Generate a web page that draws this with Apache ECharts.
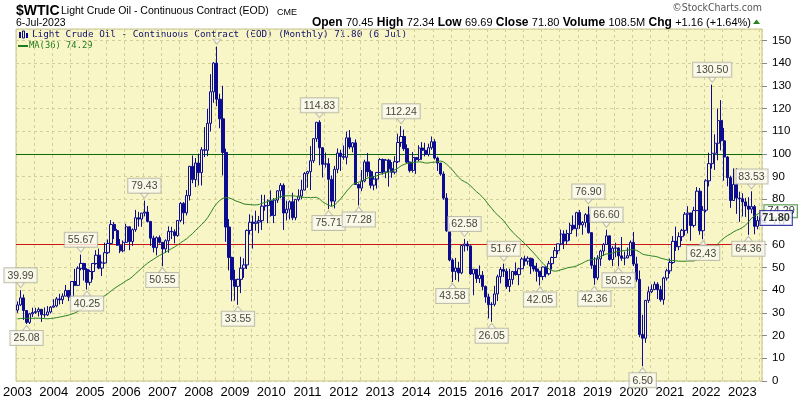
<!DOCTYPE html>
<html><head><meta charset="utf-8">
<script src="https://cdn.jsdelivr.net/npm/echarts@6/dist/echarts.min.js"></script>
<style>html,body{margin:0;padding:0;background:#fff}#c{width:800px;height:400px}</style>
</head><body><div id="c"></div>
<script>
// Monthly candles: [open, close, low, high]
const wti2003 = [[31.20,33.51,30.00,35.00],[33.51,36.60,33.00,39.99],[36.60,31.04,26.90,38.10],[31.04,25.80,25.08,31.20],[25.80,29.56,25.10,30.00],[29.56,30.19,28.20,32.30],[30.19,30.54,29.60,32.20],[30.54,31.57,28.40,32.40],[31.57,29.20,26.00,31.60],[29.20,29.11,27.90,32.40],[29.11,30.41,28.60,33.00],[30.41,32.52,29.70,33.00]];
const wti2004 = [[32.52,33.05,32.20,36.00],[33.05,36.16,32.50,37.00],[36.16,35.76,33.70,38.40],[35.76,37.38,33.90,38.60],[37.38,39.88,37.30,42.30],[39.88,37.05,35.20,40.00],[37.05,43.80,36.90,44.00],[43.80,42.12,42.00,49.40],[42.12,49.64,41.80,50.50],[49.64,51.76,48.70,55.67],[51.76,49.13,44.20,52.00],[49.13,43.45,40.25,49.70]];
const wti2005 = [[43.45,48.20,42.10,49.00],[48.20,51.75,44.70,52.00],[51.75,55.40,51.20,57.60],[55.40,49.72,49.20,58.30],[49.72,51.97,46.20,52.60],[51.97,56.50,51.60,60.90],[56.50,60.57,56.00,62.30],[60.57,68.94,60.30,70.85],[68.94,66.24,62.50,70.00],[66.24,59.76,59.50,67.00],[59.76,57.32,56.30,62.50],[57.32,61.04,56.70,61.90]];
const wti2006 = [[61.04,67.92,60.80,69.20],[67.92,61.41,57.60,68.00],[61.41,66.63,59.50,67.20],[66.63,71.88,65.70,75.35],[71.88,71.29,68.00,74.50],[71.29,73.93,67.90,74.00],[73.93,74.40,72.50,79.43],[74.40,70.26,69.80,77.10],[70.26,62.91,59.50,70.30],[62.91,58.73,56.60,64.00],[58.73,63.13,55.30,63.70],[63.13,61.05,60.50,64.10]];
const wti2007 = [[61.05,58.14,50.55,61.10],[58.14,61.79,56.40,62.40],[61.79,65.87,56.50,68.10],[65.87,65.71,62.50,67.90],[65.71,64.01,60.60,66.80],[64.01,70.68,63.50,70.70],[70.68,78.21,70.00,78.80],[78.21,74.04,69.00,78.80],[74.04,81.66,72.90,84.10],[81.66,94.53,79.50,94.70],[94.53,88.71,87.10,99.30],[88.71,95.98,85.40,98.20]];
const wti2008 = [[95.98,91.75,86.10,100.10],[91.75,101.84,86.10,103.00],[101.84,101.58,98.60,111.80],[101.58,113.46,99.00,119.90],[113.46,127.35,109.90,135.10],[127.35,140.00,122.50,140.40],[140.00,124.08,121.00,147.27],[124.08,115.46,111.30,126.50],[115.46,100.64,90.50,130.00],[100.64,67.81,61.30,102.30],[67.81,54.43,48.70,71.30],[54.43,44.60,35.10,54.70]];
const wti2009 = [[44.60,41.68,35.40,49.00],[41.68,44.76,33.55,45.00],[44.76,49.66,38.70,54.70],[49.66,51.12,45.40,54.00],[51.12,66.31,49.30,66.70],[66.31,69.89,64.50,73.40],[69.89,69.45,58.30,72.80],[69.45,69.96,66.20,75.00],[69.96,70.61,65.10,72.70],[70.61,77.00,66.50,82.00],[77.00,77.28,75.00,82.00],[77.28,79.36,69.50,80.00]];
const wti2010 = [[79.36,72.89,72.40,83.95],[72.89,79.66,69.50,80.50],[79.66,83.76,78.40,83.90],[83.76,86.15,80.50,87.15],[86.15,73.97,66.50,87.00],[73.97,75.63,70.70,79.40],[75.63,78.95,71.10,79.50],[78.95,71.92,70.80,82.90],[71.92,79.97,70.80,80.00],[79.97,81.43,79.10,84.40],[81.43,84.11,80.00,88.60],[84.11,91.38,84.00,92.00]];
const wti2011 = [[91.38,92.19,85.10,92.60],[92.19,96.97,84.10,103.40],[96.97,106.72,96.00,106.90],[106.72,113.93,105.30,113.95],[113.93,102.70,95.00,114.83],[102.70,95.42,89.60,103.00],[95.42,95.70,94.00,100.60],[95.70,88.81,75.71,98.10],[88.81,79.20,77.10,90.50],[79.20,93.19,76.00,94.70],[93.19,100.36,91.50,102.40],[100.36,98.83,92.50,101.80]];
const wti2012 = [[98.83,98.48,97.40,103.70],[98.48,107.07,95.40,109.80],[107.07,103.02,102.10,110.50],[103.02,104.87,100.70,105.20],[104.87,86.53,86.30,106.40],[86.53,84.96,77.28,87.00],[84.96,88.06,83.60,92.90],[88.06,96.47,87.50,97.40],[96.47,92.19,90.00,100.40],[92.19,86.24,84.80,93.00],[86.24,88.91,84.00,90.30],[88.91,91.82,84.70,91.90]];
const wti2013 = [[91.82,97.49,91.60,98.20],[97.49,92.05,90.80,98.00],[92.05,97.23,89.30,97.80],[97.23,93.46,85.60,97.80],[93.46,91.97,89.50,96.40],[91.97,96.56,91.00,99.00],[96.56,105.03,96.00,108.90],[105.03,107.65,103.10,112.24],[107.65,102.33,101.30,110.70],[102.33,96.38,95.90,104.20],[96.38,92.72,91.80,96.60],[92.72,98.42,91.80,100.80]];
const wti2014 = [[98.42,97.49,91.20,98.50],[97.49,102.59,96.80,103.80],[102.59,101.58,97.40,105.20],[101.58,99.74,98.90,104.90],[99.74,102.71,98.90,104.50],[102.71,105.37,101.80,107.68],[105.37,98.17,97.50,106.50],[98.17,95.96,92.50,98.80],[95.96,91.16,90.40,96.00],[91.16,80.54,79.80,92.30],[80.54,66.15,65.70,82.70],[66.15,53.27,52.70,69.40]];
const wti2015 = [[53.27,48.24,43.58,54.00],[48.24,49.76,44.50,54.20],[49.76,47.60,43.70,52.50],[47.60,59.63,47.00,59.90],[59.63,60.30,57.00,62.58],[60.30,59.47,57.40,61.60],[59.47,47.12,46.70,59.70],[47.12,49.20,37.75,49.30],[49.20,45.09,43.20,49.30],[45.09,46.59,43.10,50.90],[46.59,41.65,39.90,48.40],[41.65,37.04,34.50,42.00]];
const wti2016 = [[37.04,33.62,27.56,38.40],[33.62,33.75,26.05,34.70],[33.75,38.34,32.90,41.90],[38.34,45.92,35.20,46.80],[45.92,49.10,43.00,50.20],[49.10,48.33,45.80,51.67],[48.33,41.60,40.60,49.60],[41.60,44.70,39.20,49.40],[44.70,48.24,42.50,48.40],[48.24,46.86,46.40,52.20],[46.86,49.44,42.20,49.90],[49.44,53.72,49.30,54.50]];
const wti2017 = [[53.72,52.81,50.70,55.20],[52.81,54.01,51.20,54.90],[54.01,50.60,47.10,54.30],[50.60,49.33,48.20,53.80],[49.33,48.32,43.80,52.00],[48.32,46.04,42.05,48.40],[46.04,50.17,44.40,50.40],[50.17,47.23,45.60,50.40],[47.23,51.67,46.50,52.90],[51.67,54.38,49.10,54.80],[54.38,57.40,54.20,59.00],[57.40,60.42,55.80,60.50]];
const wti2018 = [[60.42,64.73,59.80,66.66],[64.73,61.64,58.10,66.40],[61.64,64.94,59.90,66.60],[64.94,68.57,61.80,69.60],[68.57,67.04,66.30,72.90],[67.04,74.15,63.60,74.50],[74.15,68.76,67.00,75.27],[68.76,69.80,64.40,70.40],[69.80,73.25,67.60,73.90],[73.25,65.31,64.90,76.90],[65.31,50.93,49.40,65.40],[50.93,45.41,42.36,54.50]];
const wti2019 = [[45.41,53.79,44.40,55.40],[53.79,57.22,50.70,57.80],[57.22,60.14,55.10,60.70],[60.14,63.91,60.00,66.60],[63.91,53.50,53.00,64.00],[53.50,58.47,50.60,59.40],[58.47,58.58,54.50,60.90],[58.58,55.10,50.52,58.80],[55.10,54.07,52.90,63.40],[54.07,54.18,50.99,57.00],[54.18,55.17,54.10,58.80],[55.17,61.06,55.00,61.90]];
const wti2020 = [[61.06,51.56,50.60,65.65],[51.56,44.76,43.70,54.70],[44.76,20.48,19.27,48.66],[20.48,18.84,6.50,29.13],[18.84,35.49,16.80,35.70],[35.49,39.27,34.40,41.60],[39.27,40.27,38.70,42.50],[40.27,42.61,40.10,43.80],[42.61,40.22,36.10,43.50],[40.22,35.79,34.90,41.90],[35.79,45.34,33.60,45.90],[45.34,48.52,44.20,49.40]];
const wti2021 = [[48.52,52.20,47.20,53.90],[52.20,61.50,51.60,63.80],[61.50,59.16,57.30,67.98],[59.16,63.58,57.60,65.50],[63.58,66.32,61.60,67.00],[66.32,73.47,64.00,74.40],[73.47,73.95,65.00,76.98],[73.95,68.50,61.74,74.00],[68.50,75.03,67.60,76.70],[75.03,83.57,74.90,85.41],[83.57,66.18,64.40,84.97],[66.18,75.21,62.43,77.00]];
const wti2022 = [[75.21,88.15,74.27,88.84],[88.15,95.72,85.70,100.54],[95.72,100.28,93.50,130.50],[100.28,104.69,92.93,108.60],[104.69,114.67,97.20,119.98],[114.67,105.76,101.53,123.68],[105.76,98.62,88.23,111.45],[98.62,89.55,85.73,99.00],[89.55,79.49,76.25,90.40],[79.49,86.53,79.32,93.64],[86.53,80.55,73.60,93.74],[80.55,80.26,70.08,83.34]];
const wti2023 = [[80.26,78.87,72.46,82.66],[78.87,77.05,72.25,80.62],[77.05,75.67,64.36,80.93],[75.67,76.78,73.83,83.53],[76.78,68.09,64.60,77.50],[68.09,70.64,66.80,72.72],[70.64,71.80,69.04,72.34]];

// Monthly closes 2000-2002 (used only to seed the 36-month moving average)
const priorCloses = [27.64,30.43,26.90,25.74,29.01,32.50,27.43,33.12,30.84,32.70,33.82,26.80,
  28.66,27.39,26.29,28.46,28.37,26.25,26.35,27.20,23.43,21.18,19.44,19.84,
  19.48,21.74,26.31,27.29,25.31,26.86,27.02,28.98,30.45,27.22,26.89,31.20];

const years = [2003,2004,2005,2006,2007,2008,2009,2010,2011,2012,2013,2014,2015,2016,2017,2018,2019,2020,2021,2022,2023];
const yearData = [wti2003,wti2004,wti2005,wti2006,wti2007,wti2008,wti2009,wti2010,wti2011,wti2012,wti2013,wti2014,wti2015,wti2016,wti2017,wti2018,wti2019,wti2020,wti2021,wti2022,wti2023];

// Swing-point annotations
const highMarks = [['2003-02',39.99],['2004-10',55.67],['2006-07',79.43],['2008-07',147.27],['2011-05',114.83],['2013-08',112.24],['2015-05',62.58],['2016-06',51.67],['2018-10',76.90],['2019-04',66.60],['2022-03',130.50],['2023-04',83.53]];
const lowMarks = [['2003-04',25.08],['2004-12',40.25],['2007-01',50.55],['2009-02',33.55],['2011-08',75.71],['2012-06',77.28],['2015-01',43.58],['2016-02',26.05],['2017-06',42.05],['2018-12',42.36],['2019-08',50.52],['2020-04',6.50],['2021-12',62.43],['2023-03',64.36]];
const refLevels = [100, 60];
const lastClose = 71.80;
const lastMA = 74.29;

const categories = [];
const ohlc = [];
yearData.forEach((arr, yi) => arr.forEach((d, mi) => {
  categories.push(years[yi] + '-' + String(mi + 1).padStart(2, '0'));
  ohlc.push(d);
}));
const allCloses = priorCloses.concat(ohlc.map(d => d[1]));
const ma36 = ohlc.map((d, i) => {
  let s = 0;
  for (let k = i + 1; k <= i + 36; k++) s += allCloses[k];
  return +(s / 36).toFixed(2);
});
const lastCat = categories[categories.length - 1];

const NAVY = '#0c0c90';
const BG = '#f8f5c6';
const boxLabel = {
  backgroundColor: '#fbfbf0', borderColor: '#b3b3a0', borderWidth: 1,
  padding: [2, 3, 1, 3], color: '#111', fontFamily: 'Liberation Sans', fontSize: 10.5
};

const chart = echarts.init(document.getElementById('c'), null, { renderer: 'canvas' });
chart.setOption({
  animation: false,
  backgroundColor: '#ffffff',
  grid: { left: 16, right: 38, top: 29, bottom: 19, show: true, backgroundColor: BG, borderColor: '#c9c48e', borderWidth: 1 },
  xAxis: {
    type: 'category', data: categories, boundaryGap: true,
    axisLine: { show: false }, axisTick: { show: false },
    axisLabel: { interval: (i) => i % 12 === 0, formatter: v => v.slice(0, 4), color: '#000',
      fontFamily: '"Liberation Sans Narrow", "Liberation Sans", sans-serif', fontSize: 13, margin: 5 },
    splitLine: { show: true, interval: (i) => i % 6 === 0, lineStyle: { color: '#d3cf99', type: [3, 3], width: 1 } }
  },
  yAxis: {
    type: 'value', position: 'right', min: 0, max: 155, interval: 10,
    axisLine: { show: false },
    axisTick: { show: true, length: 5, lineStyle: { color: '#888' } },
    axisLabel: { showMaxLabel: false, color: '#000', fontFamily: 'Liberation Sans', fontSize: 11.5, margin: 10 },
    splitLine: { lineStyle: { color: '#d3cf99', type: [3, 3], width: 1 } }
  },
  series: [
    {
      type: 'candlestick', data: ohlc, barWidth: 2.8, z: 3,
      itemStyle: { color: BG, color0: NAVY, borderColor: NAVY, borderColor0: NAVY, borderWidth: 1 },
      markLine: {
        silent: true, symbol: 'none', label: { show: false }, z: 2,
        data: [
          { yAxis: refLevels[0], lineStyle: { color: '#0a6a0a', width: 1, type: 'solid' } },
          { yAxis: refLevels[1], lineStyle: { color: '#d01515', width: 1, type: 'solid' } }
        ]
      }
    },
    {
      type: 'line', data: ma36, symbol: 'none', z: 4,
      lineStyle: { color: '#2a8220', width: 1 }
    },
    {
      type: 'scatter', z: 10, clip: false,
      data: highMarks.map(([c, v]) => ({ value: [c, v], label: { show: v < 145 } })),
      symbol: 'triangle', symbolSize: [8, 5], symbolRotate: 180, symbolOffset: [0, -5],
      itemStyle: { color: '#fbfbf0', borderColor: '#b3b3a0', borderWidth: 1 },
      label: Object.assign({ show: true, position: 'top', distance: 0, formatter: p => p.value[1].toFixed(2) }, boxLabel)
    },
    {
      type: 'scatter', z: 10, clip: false,
      data: lowMarks.map(([c, v]) => ({ value: [c, v] })),
      symbol: 'triangle', symbolSize: [8, 5], symbolOffset: [0, 4],
      itemStyle: { color: '#fbfbf0', borderColor: '#b3b3a0', borderWidth: 1 },
      label: Object.assign({ show: true, position: 'bottom', distance: 0, formatter: p => p.value[1].toFixed(2) }, boxLabel)
    },
    {
      type: 'scatter', z: 11, clip: false, data: [[lastCat, lastMA]],
      symbol: 'triangle', symbolSize: [8, 5], symbolRotate: 90, symbolOffset: [4, 0],
      itemStyle: { color: '#fff', borderColor: '#2a8220', borderWidth: 1 },
      label: { show: true, position: 'right', distance: 0, offset: [-3, -1], formatter: p => p.value[1].toFixed(2),
        backgroundColor: '#fff', borderColor: '#2a8220', borderWidth: 1, padding: [1, 2, 0, 3],
        color: '#000', fontFamily: 'Liberation Sans', fontSize: 11 }
    },
    {
      type: 'scatter', z: 12, clip: false, data: [[lastCat, lastClose]],
      symbol: 'triangle', symbolSize: [10, 5], symbolRotate: 90, symbolOffset: [2, 0],
      itemStyle: { color: '#fff', borderColor: NAVY, borderWidth: 1 },
      label: { show: true, position: 'right', distance: 0, offset: [-5, 0], formatter: p => p.value[1].toFixed(2),
        backgroundColor: '#fff', borderColor: NAVY, borderWidth: 1, padding: [2, 2, 1, 2],
        color: '#000', fontWeight: 'bold', fontFamily: 'Liberation Sans', fontSize: 11 }
    }
  ],
  graphic: [
    { type: 'text', left: 16, top: 4, style: { text: '$WTIC', font: 'bold 14px "Liberation Sans"', fill: '#000' } },
    { type: 'text', left: 61, top: 6, style: { text: 'Light Crude Oil - Continuous Contract (EOD)', font: '10.5px "Liberation Sans"', fill: '#000' } },
    { type: 'text', left: 277, top: 8, style: { text: 'CME', font: '9px "Liberation Sans"', fill: '#000' } },
    { type: 'text', left: 16, top: 18, style: { text: '6-Jul-2023', font: '10.5px "Liberation Sans"', fill: '#000' } },
    { type: 'text', right: 38, top: 3, style: { text: '\u00A9StockCharts.com', font: '10.5px "DejaVu Sans Condensed", "Liberation Sans"', fill: '#555' } },
    { type: 'text', right: 49, top: 17, style: {
      text: '{b|Open} {v|70.45} {b|High} {v|72.34} {b|Low} {v|69.69} {b|Close} {v|71.80} {b|Volume} {v|108.5M} {b|Chg} {v|+1.16 (+1.64%)}',
      rich: { b: { fontFamily: 'Liberation Sans', fontWeight: 'bold', fontSize: 12, fill: '#000' },
              v: { fontFamily: 'Liberation Sans', fontSize: 11, fill: '#000' } } } },
    { type: 'polygon', shape: { points: [[753, 24], [760, 24], [756.5, 19.5]] }, style: { fill: '#2a8220' } },
    // legend
    { type: 'rect', shape: { x: 19, y: 32, width: 2, height: 6 }, style: { fill: NAVY } },
    { type: 'rect', shape: { x: 22.5, y: 31, width: 2, height: 7 }, style: { fill: 'none', stroke: NAVY, lineWidth: 1 } },
    { type: 'rect', shape: { x: 26, y: 33, width: 2, height: 5 }, style: { fill: NAVY } },
    { type: 'text', left: 32, top: 30, style: { text: 'Light Crude Oil - Continuous Contract (EOD) (Monthly) 71.80 (6 Jul)', font: '9.3px "DejaVu Sans Mono"', fill: '#10106a' } },
    { type: 'line', shape: { x1: 18, y1: 46, x2: 28, y2: 46 }, style: { stroke: '#1f7a1f', lineWidth: 2 } },
    { type: 'text', left: 29, top: 41, style: { text: 'MA(36) 74.29', font: '8.8px "DejaVu Sans Mono"', fill: '#1f7a1f' } }
  ]
});
</script>
</body></html>
